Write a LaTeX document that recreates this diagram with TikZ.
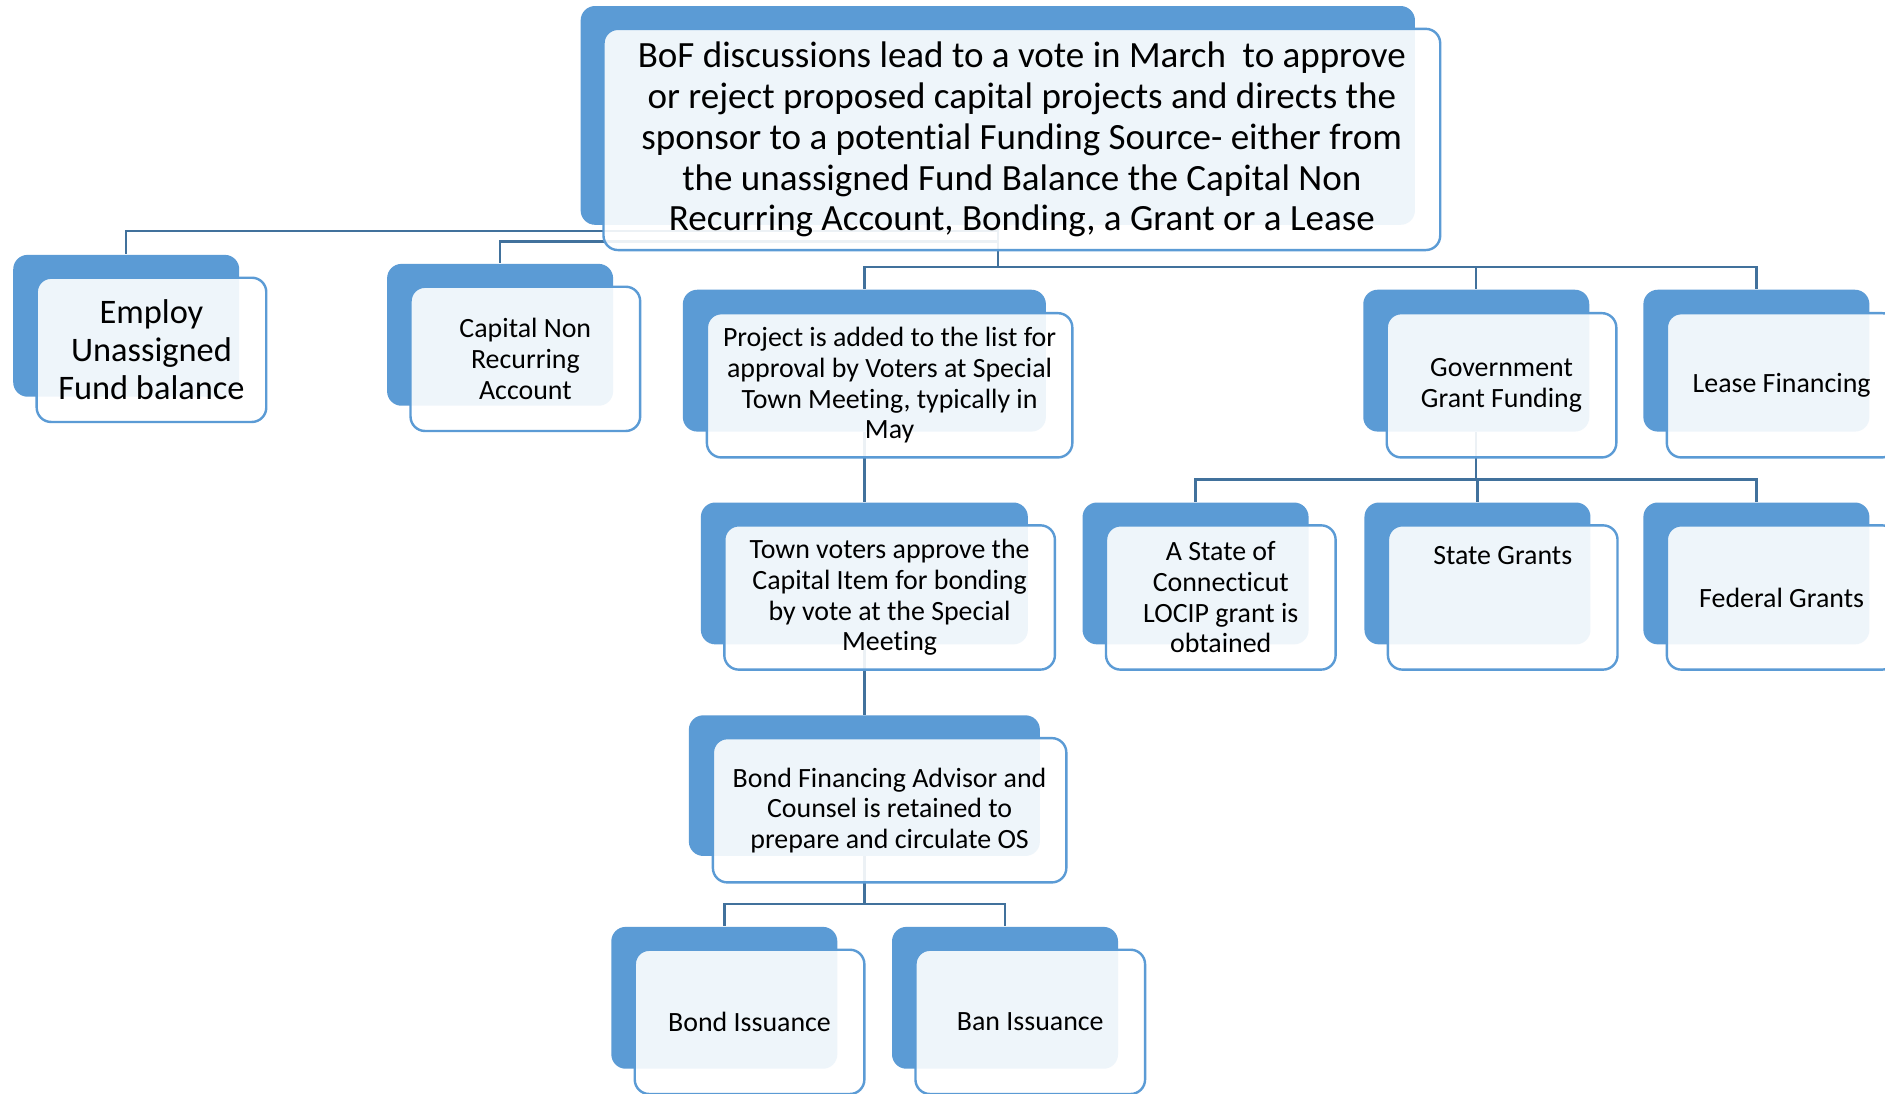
\documentclass[tikz,border=0pt]{standalone}
\usepackage{fontspec}
\setmainfont{Carlito}[Ligatures=NoCommon]
\usetikzlibrary{positioning, backgrounds}
\definecolor{cardblue}{HTML}{5B9BD5}
\definecolor{linkblue}{HTML}{41719C}
\tikzset{
back/.style={rectangle, rounded corners=6pt, fill=cardblue, draw=none, minimum width=94pt, minimum height=59pt}, % dark card behind
txt/.style={align=center, font=\fontsize{11.6pt}{12.75pt}\selectfont}, % small card text
front/.style={txt, rectangle, rounded corners=6pt, draw=cardblue, line width=1pt, fill=white, fill opacity=0.9, text opacity=1, inner sep=0pt, minimum width=95.5pt, minimum height=60pt}, % light card in front
big/.style={font=\fontsize{14.3pt}{15.75pt}\selectfont},
huge/.style={font=\fontsize{15.4pt}{17pt}\selectfont},
link/.style={draw=linkblue, line width=1pt}, % connector lines
}
\begin{document}
\begin{tikzpicture}[x=0.5pt, y=-0.5pt]
  \useasboundingbox (0,0) rectangle (1568,910);
  \clip (0,0) rectangle (1568,910);

  % top card
  \node[back, minimum width=347pt, minimum height=91pt] (topB) at (830,96) {};
  \node[front, huge, minimum width=348pt, minimum height=92pt] (top) at (850,116) {BoF discussions lead to a vote in March~ to approve\\or reject proposed capital projects and directs the\\sponsor to a potential Funding Source- either from\\the unassigned Fund Balance the Capital Non\\Recurring Account, Bonding, a Grant or a Lease};

  % first row
  \node[back] (euB) at (105,271) {};
  \node[front, big] (eu) at (126,291) {Employ\\Unassigned\\Fund balance};
  \node[back] (cnB) at (416,278.5) {};
  \node[front] (cn) at (437,298.5) {Capital Non\\Recurring\\Account};
  \node[back, minimum width=151pt] (pjB) at (719,300) {};
  \node[front, minimum width=152pt] (pj) at (740,320.5) {Project is added to the list for\\approval by Voters at Special\\Town Meeting, typically in\\May};
  \node[back] (ggB) at (1228,300) {};
  \node[front] (gg) at (1249,320.5) {Government\\Grant Funding};
  \node[back] (lfB) at (1461,300) {};
  \node[front] (lf) at (1482,320.5) {Lease Financing};

  % second row
  \node[back, minimum width=136pt] (tvB) at (719,477) {};
  \node[front, minimum width=137.5pt] (tv) at (740,497) {Town voters approve the\\Capital Item for bonding\\by vote at the Special\\Meeting};
  \node[back] (scB) at (994.5,477) {};
  \node[front] (sc) at (1015.5,497) {A State of\\Connecticut\\LOCIP grant is\\obtained};
  \node[back] (sgB) at (1229,477) {};
  \node[front] (sg) at (1250,497) {};
  \node[txt] (sgT) at (1250,462) {State Grants};
  \node[back] (fgB) at (1461,477) {};
  \node[front] (fg) at (1482,497) {Federal Grants};

  % bond branch
  \node[back, minimum width=146pt, minimum height=58.5pt] (bfB) at (719,653.5) {};
  \node[front, minimum width=147pt] (bf) at (740,674) {Bond Financing Advisor and\\Counsel is retained to\\prepare and circulate OS};
  \node[back] (biB) at (602.5,830) {};
  \node[front] (bi) at (623.5,850) {Bond Issuance};
  \node[back] (baB) at (836,830) {};
  \node[front] (ba) at (857,850) {Ban Issuance};

  \begin{scope}[on background layer]
    \fill[white] (0,0) rectangle (1568,910);
    \coordinate (hubE) at (830,192);
    \coordinate (hubC) at (830,201);
    \coordinate (hubT) at (830,222);
    \coordinate (hubG) at (1228,399);
    \coordinate (hubB) at (719,752);
    \draw[link] (topB.south) -- (hubE) -| (euB.north);
    \draw[link] (topB.south) -- (hubC) -| (cnB.north);
    \draw[link] (topB.south) -- (hubT) -| (pjB.north);
    \draw[link] (hubT) -| (ggB.north);
    \draw[link] (hubT) -| (lfB.north);
    \draw[link] (pjB.south) -- (tvB.north);
    \draw[link] (tvB.south) -- (bfB.north);
    \draw[link] (bfB.south) -- (hubB) -| (biB.north);
    \draw[link] (hubB) -| (baB.north);
    \draw[link] (ggB.south) -- (hubG) -| (scB.north);
    \draw[link] (hubG) -| (sgB.north);
    \draw[link] (hubG) -| (fgB.north);
  \end{scope}
\end{tikzpicture}
\end{document}
